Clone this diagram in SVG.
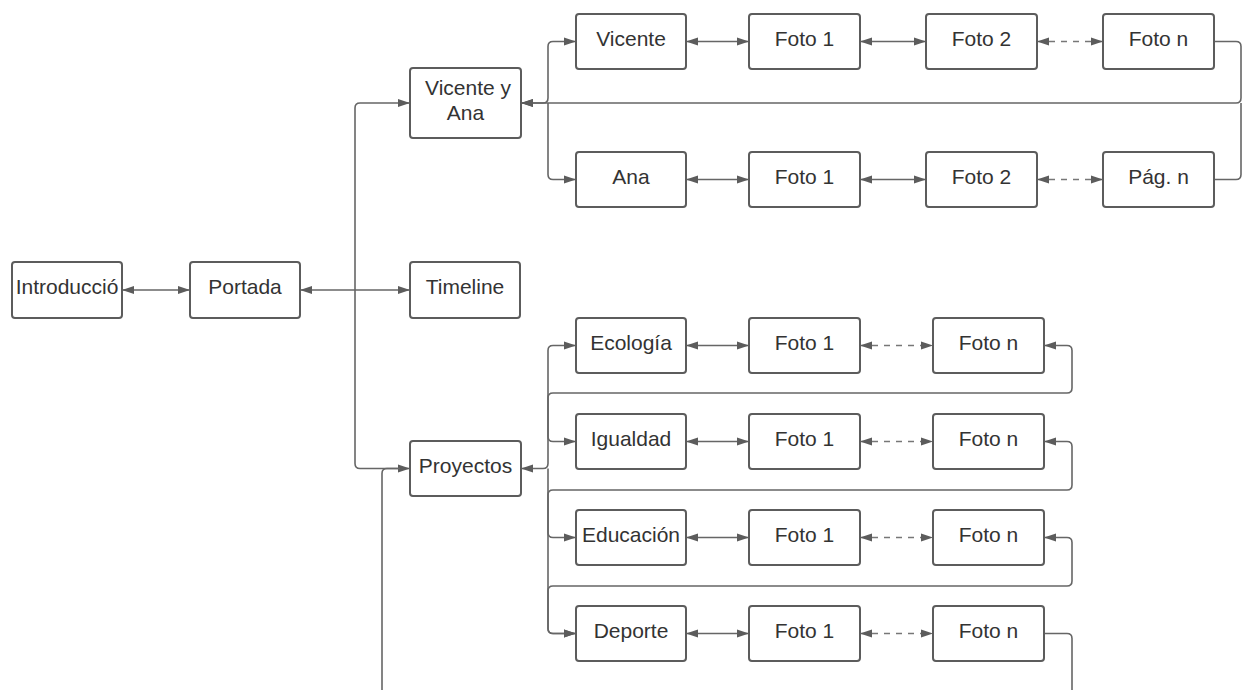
<svg xmlns="http://www.w3.org/2000/svg" width="1243" height="690" viewBox="0 0 1243 690">
<style>
.b{fill:#fff;stroke:#5c5c5c;stroke-width:2}
.t{font-family:"Liberation Sans",Arial,sans-serif;font-size:21px;fill:#333;text-anchor:middle}
.c{fill:none;stroke:#666;stroke-width:1.6}
.d{fill:none;stroke:#777;stroke-width:1.6;stroke-dasharray:6 6}
</style>
<defs>
<marker id="a" viewBox="0 0 12 10" refX="12" refY="5" markerWidth="12" markerHeight="10" markerUnits="userSpaceOnUse" orient="auto-start-reverse">
<path d="M0,1 L12,5 L0,9 Z" fill="#5c5c5c"/>
</marker>
</defs>
<rect width="1243" height="690" fill="#fff"/>
<g id="connectors">
<path class="c" d="M122,290 H190" marker-start="url(#a)" marker-end="url(#a)"/>
<path class="c" d="M300,290 H355" marker-start="url(#a)"/>
<path class="c" d="M355,290 V108 Q355,103 360,103 H410" marker-end="url(#a)"/>
<path class="c" d="M355,290 H410" marker-end="url(#a)"/>
<path class="c" d="M355,290 V463.5 Q355,468.5 360,468.5 H410" marker-end="url(#a)"/>
<path class="c" d="M382,690 V473.5 Q382,468.5 387,468.5 H400"/>
<path class="c" d="M521,103 H543 Q548,103 548,98 V46.5 Q548,41.5 553,41.5 H576" marker-start="url(#a)" marker-end="url(#a)"/>
<path class="c" d="M548,103 V174.5 Q548,179.5 553,179.5 H576" marker-end="url(#a)"/>
<path class="c" d="M1214,41.5 H1236 Q1241,41.5 1241,46.5 V98 Q1241,103 1236,103 H521" marker-end="url(#a)"/>
<path class="c" d="M1214,179.5 H1236 Q1241,179.5 1241,174.5 V103"/>
<path class="c" d="M686,41.5 H749" marker-start="url(#a)" marker-end="url(#a)"/>
<path class="c" d="M860,41.5 H926" marker-start="url(#a)" marker-end="url(#a)"/>
<path class="d" d="M1037,41.5 H1103" marker-start="url(#a)" marker-end="url(#a)"/>
<path class="c" d="M686,179.5 H749" marker-start="url(#a)" marker-end="url(#a)"/>
<path class="c" d="M860,179.5 H926" marker-start="url(#a)" marker-end="url(#a)"/>
<path class="d" d="M1037,179.5 H1103" marker-start="url(#a)" marker-end="url(#a)"/>
<path class="c" d="M521,468.5 H543 Q548,468.5 548,463.5 V350.5 Q548,345.5 553,345.5 H576" marker-start="url(#a)" marker-end="url(#a)"/>
<path class="c" d="M548,468.5 V628.5 Q548,633.5 553,633.5 H576" marker-end="url(#a)"/>
<path class="c" d="M1044,345.5 H1067 Q1072,345.5 1072,350.5 V388 Q1072,393 1067,393 H553 Q548,393 548,398 V436.5 Q548,441.5 553,441.5 H576" marker-start="url(#a)" marker-end="url(#a)"/>
<path class="c" d="M1044,441.5 H1067 Q1072,441.5 1072,446.5 V485 Q1072,490 1067,490 H553 Q548,490 548,495 V532.5 Q548,537.5 553,537.5 H576" marker-start="url(#a)" marker-end="url(#a)"/>
<path class="c" d="M1044,537.5 H1067 Q1072,537.5 1072,542.5 V581 Q1072,586 1067,586 H553 Q548,586 548,591 V628.5 Q548,633.5 553,633.5 H576" marker-start="url(#a)" marker-end="url(#a)"/>
<path class="c" d="M1044,633.5 H1067 Q1072,633.5 1072,638.5 V690"/>
<path class="c" d="M686,345.5 H749" marker-start="url(#a)" marker-end="url(#a)"/>
<path class="d" d="M860,345.5 H933" marker-start="url(#a)" marker-end="url(#a)"/>
<path class="c" d="M686,441.5 H749" marker-start="url(#a)" marker-end="url(#a)"/>
<path class="d" d="M860,441.5 H933" marker-start="url(#a)" marker-end="url(#a)"/>
<path class="c" d="M686,537.5 H749" marker-start="url(#a)" marker-end="url(#a)"/>
<path class="d" d="M860,537.5 H933" marker-start="url(#a)" marker-end="url(#a)"/>
<path class="c" d="M686,633.5 H749" marker-start="url(#a)" marker-end="url(#a)"/>
<path class="d" d="M860,633.5 H933" marker-start="url(#a)" marker-end="url(#a)"/>
</g>
<g id="introduccio"><rect class="b" x="12" y="262" width="110" height="56" rx="3"/><text class="t" x="67" y="294">Introducció</text></g>
<g id="portada"><rect class="b" x="190" y="262" width="110" height="56" rx="3"/><text class="t" x="245" y="294">Portada</text></g>
<g id="timeline"><rect class="b" x="410" y="262" width="110" height="56" rx="3"/><text class="t" x="465" y="294">Timeline</text></g>
<g id="vicente-y-ana"><rect class="b" x="410" y="68" width="111" height="70" rx="3"/><text class="t" x="468" y="95">Vicente y</text><text class="t" x="465.5" y="120">Ana</text></g>
<g id="proyectos"><rect class="b" x="410" y="441" width="111" height="55" rx="3"/><text class="t" x="465.5" y="473">Proyectos</text></g>
<g id="vicente"><rect class="b" x="576" y="14" width="110" height="55" rx="3"/><text class="t" x="631" y="46">Vicente</text></g>
<g id="v-foto1"><rect class="b" x="749" y="14" width="111" height="55" rx="3"/><text class="t" x="804.5" y="46">Foto 1</text></g>
<g id="v-foto2"><rect class="b" x="926" y="14" width="111" height="55" rx="3"/><text class="t" x="981.5" y="46">Foto 2</text></g>
<g id="v-foton"><rect class="b" x="1103" y="14" width="111" height="55" rx="3"/><text class="t" x="1158.5" y="46">Foto n</text></g>
<g id="ana"><rect class="b" x="576" y="152" width="110" height="55" rx="3"/><text class="t" x="631" y="184">Ana</text></g>
<g id="a-foto1"><rect class="b" x="749" y="152" width="111" height="55" rx="3"/><text class="t" x="804.5" y="184">Foto 1</text></g>
<g id="a-foto2"><rect class="b" x="926" y="152" width="111" height="55" rx="3"/><text class="t" x="981.5" y="184">Foto 2</text></g>
<g id="a-pagn"><rect class="b" x="1103" y="152" width="111" height="55" rx="3"/><text class="t" x="1158.5" y="184">Pág. n</text></g>
<g id="ecologia"><rect class="b" x="576" y="318" width="110" height="55" rx="3"/><text class="t" x="631" y="350">Ecología</text></g>
<g id="e-foto1"><rect class="b" x="749" y="318" width="111" height="55" rx="3"/><text class="t" x="804.5" y="350">Foto 1</text></g>
<g id="e-foton"><rect class="b" x="933" y="318" width="111" height="55" rx="3"/><text class="t" x="988.5" y="350">Foto n</text></g>
<g id="igualdad"><rect class="b" x="576" y="414" width="110" height="55" rx="3"/><text class="t" x="631" y="446">Igualdad</text></g>
<g id="i-foto1"><rect class="b" x="749" y="414" width="111" height="55" rx="3"/><text class="t" x="804.5" y="446">Foto 1</text></g>
<g id="i-foton"><rect class="b" x="933" y="414" width="111" height="55" rx="3"/><text class="t" x="988.5" y="446">Foto n</text></g>
<g id="educacion"><rect class="b" x="576" y="510" width="110" height="55" rx="3"/><text class="t" x="631" y="542">Educación</text></g>
<g id="ed-foto1"><rect class="b" x="749" y="510" width="111" height="55" rx="3"/><text class="t" x="804.5" y="542">Foto 1</text></g>
<g id="ed-foton"><rect class="b" x="933" y="510" width="111" height="55" rx="3"/><text class="t" x="988.5" y="542">Foto n</text></g>
<g id="deporte"><rect class="b" x="576" y="606" width="110" height="55" rx="3"/><text class="t" x="631" y="638">Deporte</text></g>
<g id="d-foto1"><rect class="b" x="749" y="606" width="111" height="55" rx="3"/><text class="t" x="804.5" y="638">Foto 1</text></g>
<g id="d-foton"><rect class="b" x="933" y="606" width="111" height="55" rx="3"/><text class="t" x="988.5" y="638">Foto n</text></g>
</svg>
